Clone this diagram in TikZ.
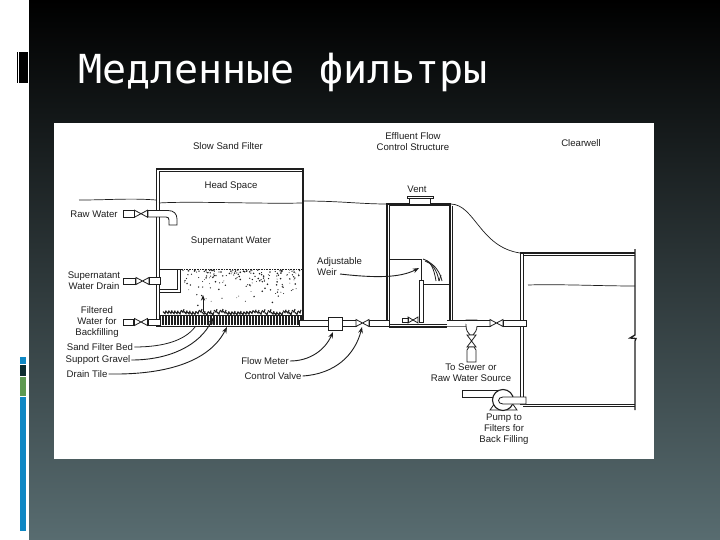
\documentclass[tikz,border=0pt]{standalone}
\usepackage{fontspec}
\setmainfont{Liberation Sans}
\newfontfamily\titlefont{DejaVu Sans Mono}
\usetikzlibrary{arrows.meta, positioning}
\definecolor{slideTop}{HTML}{000000}
\definecolor{slideBottom}{HTML}{586C70}
\definecolor{barBlue}{HTML}{0F88C4}
\definecolor{barDark}{HTML}{0C2C30}
\definecolor{barGreen}{HTML}{5E9A52}
\definecolor{inkGray}{HTML}{1E1E1E}
\tikzset{
  lbl/.style={font=\fontsize{9.6}{11}\selectfont, text=inkGray, align=center, inner sep=1pt},
  ink/.style={draw=inkGray, line width=0.8pt},
  wall/.style={draw=inkGray, line width=1.3pt},
  pipe/.style={draw=inkGray, fill=white, line width=0.8pt},
  leader/.style={-{Stealth[length=2.2mm]}, draw=inkGray, line width=0.9pt},
  wave/.style={draw=inkGray, line width=0.7pt},
  valve/.pic={
    \draw[pipe] (-6.5,-3.5) -- (6.5,3.5) -- (6.5,-3.5) -- (-6.5,3.5) -- cycle;
  },
}

\begin{document}
\begin{tikzpicture}[x=1pt, y=-1pt]
  \useasboundingbox (0,0) rectangle (720,540);
  % slide
  \shade[top color=slideTop, bottom color=slideBottom] (29,0) rectangle (720,540);
  \fill[black] (17,52) rectangle (17.8,83);
  \fill[black] (18.7,52) rectangle (28,83);
  \fill[barBlue] (20,357) rectangle (26,364);
  \fill[barDark] (20,365) rectangle (26,376);
  \fill[barGreen] (20,377) rectangle (26,396);
  \fill[barBlue] (20,397) rectangle (26,531);
  \node[anchor=west, inner sep=0pt, text=white, font=\titlefont\fontsize{40}{44}\selectfont]
        (title) at (78,72) {Медленные фильтры};
  \fill[white] (54,123) rectangle (654,459);

  % water lines
  \draw[wave] (79,200) .. controls (110,200) and (130,198) .. (156,200);
  \draw[wave] (159,203) .. controls (190,201) and (260,204) .. (302,203);
  \draw[wave] (304,201) .. controls (340,201) and (360,204) .. (387,204);
  \draw[wave] (451,204) .. controls (475,205) and (480,247) .. (520,253);
  \draw[wave] (528,285) .. controls (560,284) and (600,286) .. (635,286);

  % sand
  \pgfmathsetseed{17}
  \foreach \i in {1,...,170}{
    \pgfmathsetmacro{\dotx}{182+rnd*118}
    \pgfmathsetmacro{\doty}{270+rnd*rnd*38}
    \pgfmathsetmacro{\dotr}{0.4+rnd*0.5}
    \fill[inkGray] (\dotx,\doty) circle (\dotr);
  }
  \draw[inkGray, densely dotted, line width=0.6pt] (160,269) -- (302,269);

  % gravel and drain tile
  \foreach \i in {1,...,46}{
    \pgfmathsetmacro{\gx}{160+\i*3}
    \pgfmathsetmacro{\gy}{310+rnd*3}
    \draw[inkGray, line width=1.1pt] (\gx,\gy) -- (\gx+2,\gy+2) -- (\gx+3,\gy-1);
  }
  \foreach \i in {0,...,47}{
    \draw[inkGray, line width=1.1pt] (160+\i*3,315) -- (160+\i*3,325);
  }
  \draw[inkGray, line width=0.8pt] (160,315) -- (300,315);
  \draw[-{Stealth[length=2mm]}, draw=inkGray, line width=0.9pt] (203,312) -- (203,295);

  % filter box
  \draw[wall] (156.5,326.5) -- (156.5,169) -- (303,169) -- (303,322);
  \draw[ink] (159.5,326) -- (159.5,171) -- (302,171);
  \draw[inkGray, line width=1.6pt] (156,326.5) -- (304,326.5);

  % raw water
  \draw[pipe] (148,210.5) -- (168,210.5) .. controls (174,210.5) and (177,214) .. (177,219)
              -- (177,225) -- (169,225) -- (169,220) .. controls (169,218) and (168,217) .. (166,217)
              -- (148,217) -- cycle;
  \draw[pipe] (123,210.5) rectangle (134,217);
  \pic at (141,213.7) {valve};

  % supernatant drain
  \draw[ink] (160,269) -- (180,269) -- (180,292) -- (160,292);
  \draw[ink] (160,269) -- (177.5,269) -- (177.5,289.5) -- (160,289.5);
  \draw[pipe] (123,278) rectangle (135,284);
  \pic at (142.5,281) {valve};
  \draw[pipe] (149,277.5) rectangle (160,284.5);

  % backfill
  \draw[pipe] (123,319) rectangle (133,325);
  \pic at (141,322) {valve};
  \draw[pipe] (148,319.5) rectangle (160,325.5);

  % outlet line
  \draw[pipe] (299,320) rectangle (328,326);
  \draw[pipe] (342,320) rectangle (356,326);
  \draw[pipe] (328,317) rectangle (342,330);
  \pic at (362.5,323) {valve};
  \draw[pipe] (369,320) rectangle (389,326);
  \draw[ink] (389,324.5) -- (447,324.5);
  \draw[wall] (389,327) -- (447,327);

  % control structure
  \draw[wall] (387,320) -- (387,204) -- (451,204);
  \draw[ink] (389,320) -- (389,205.5) -- (450,205.5);
  \draw[wall] (450,205) -- (450,320);
  \draw[ink] (452.7,206) -- (452.7,320);
  \draw[pipe] (409,198) rectangle (430,204);
  \draw[pipe] (407,196) rectangle (433,198.5);

  % weir
  \draw[ink] (389,259) -- (422,259);
  \draw[ink] (421,259) -- (421,281);
  \draw[pipe] (419,280) rectangle (423,322);
  \draw[ink] (423,259) .. controls (430,260) and (434,268) .. (436,281);
  \draw[ink] (425,261) .. controls (432,263) and (437,270) .. (439,281);
  \draw[ink] (427,261) .. controls (435,265) and (440,272) .. (442,281);
  \draw[ink] (439,281) -- (441,275);
  \draw[ink] (423,284) -- (449,284);
  \draw[pipe] (402,318) rectangle (408,322);
  \draw[ink] (408,317) -- (418,323) -- (418,317) -- (408,323) -- cycle;

  % t piece and sewer
  \draw[pipe] (466,320) -- (466,326) .. controls (466,330) and (468,333) .. (470,335)
              -- (473,335) .. controls (475,333) and (477,330) .. (477,326) -- (477,320) -- cycle;
  \draw[pipe] (447,320) -- (490,320) -- (490,326) -- (477,326) (466,326) -- (447,326) -- cycle;
  \draw[pipe] (467,335) -- (476,347) -- (467,347) -- (476,335) -- cycle;
  \draw[pipe] (467,350) -- (469,347) -- (474,347) -- (476,350) -- (476,362) -- (467,362) -- cycle;
  \pic at (496.5,323) {valve};

  % clearwell
  \draw[wall] (520.5,253) -- (520.5,397);
  \draw[ink] (523,254) -- (523,397);
  \draw[pipe] (503,320) rectangle (526,326);
  \draw[wall] (520,253) -- (635,253);
  \draw[ink] (523,255) -- (635,255);
  \draw[wall] (635,249) -- (635,335) -- (630,338) -- (636,338.5) -- (635,341) -- (635,410);
  \draw[ink] (520,404.5) -- (635,404.5);
  \draw[wall] (523,406.5) -- (635,406.5);

  % pump
  \draw[pipe] (462,390) rectangle (497,397);
  \draw[pipe] (490,410) -- (495,403) -- (500,410) -- cycle;
  \draw[pipe] (507,410) -- (512,403) -- (517,410) -- cycle;
  \draw[pipe, line width=1.1pt] (503,400) circle (10.5);
  \draw[pipe] (526,397) -- (503,397) .. controls (497,397) and (497,404) .. (503,404) -- (526,404) -- cycle;

  % labels
  \node[lbl] (filterT) at (228,146) {Slow Sand Filter};
  \node[lbl] (head) at (231,186) {Head Space};
  \node[lbl] (super) at (231,241) {Supernatant Water};
  \node[lbl] (raw) at (94,214) {Raw Water};
  \node[lbl] (drain) at (94,281) {Supernatant\\Water Drain};
  \node[lbl] (back) at (97,322) {Filtered\\Water for\\Backfilling};
  \node[lbl] (bed) at (100,347) {Sand Filter Bed};
  \node[lbl] (gravel) at (98,360) {Support Gravel};
  \node[lbl] (tile) at (87,374) {Drain Tile};
  \node[lbl] (meter) at (265,361) {Flow Meter};
  \node[lbl] (cvalve) at (273,376) {Control Valve};
  \node[lbl, align=left, anchor=west] (weir) at (316,267) {Adjustable\\Weir};
  \node[lbl] (effl) at (413,142) {Effluent Flow\\Control Structure};
  \node[lbl] (vent) at (417,189) {Vent};
  \node[lbl] (clear) at (581,143) {Clearwell};
  \node[lbl] (sewer) at (471,373) {To Sewer or\\Raw Water Source};
  \node[lbl] (pumpT) at (504,429) {Pump to\\Filters for\\Back Filling};

  % leaders
  \coordinate (bedEnd) at (195,327);
  \coordinate (gravelEnd) at (213,318);
  \coordinate (tileEnd) at (227,327);
  \coordinate (meterEnd) at (333,332);
  \coordinate (cvalveEnd) at (362,327);
  \coordinate (weirStart) at (340,274);
  \coordinate (weirEnd) at (419,268);
  \draw[ink] (bed.east) .. controls (165,347) and (185,340) .. (bedEnd);
  \draw[leader] (gravel.east) .. controls (170,360) and (200,345) .. (gravelEnd);
  \draw[leader] (tile.east) .. controls (170,375) and (210,360) .. (tileEnd);
  \draw[leader] (meter.east) .. controls (310,361) and (325,350) .. (meterEnd);
  \draw[leader] (cvalve.east) .. controls (335,374) and (355,355) .. (cvalveEnd);
  \draw[leader] (weirStart) .. controls (375,278) and (400,278) .. (weirEnd);
\end{tikzpicture}
\end{document}
